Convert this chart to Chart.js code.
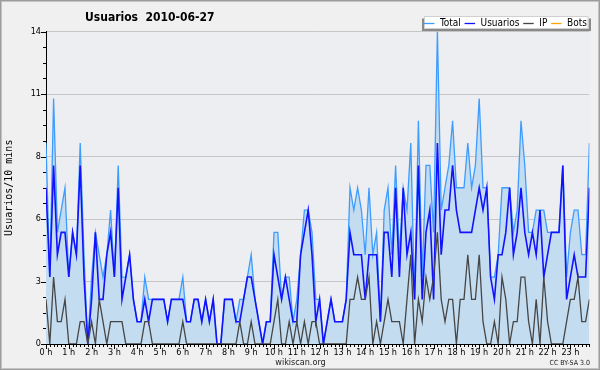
<!DOCTYPE html>
<html><head><meta charset="utf-8">
<script src="https://cdn.jsdelivr.net/npm/chart.js@4.4.0/dist/chart.umd.min.js"></script>
<style>html,body{margin:0;padding:0;background:#f0f0f0;}canvas{display:block;}</style>
</head><body>
<canvas id="c" width="600" height="370"></canvas>
<script>
// ---- data (one value per 10 minutes, 00:00 .. 23:50) ----
const titleText = "Usuarios  2010-06-27";
const yAxisTitle = "Usuarios/10 mins";
const hourLabels = ["0 h","1 h","2 h","3 h","4 h","5 h","6 h","7 h","8 h","9 h","10 h","11 h","12 h","13 h","14 h","15 h","16 h","17 h","18 h","19 h","20 h","21 h","22 h","23 h"];
const yTickLabels = ["0","3","6","8","11","14"];
const seriesNames = ["Total","Usuarios","IP","Bots"];
const total = [9,3,11,5,6,7,3,5,4,9,4,0,3,5,4,3,4,6,3,8,3,3,4,2,1,1,3,2,2,2,2,2,1,2,2,2,3,1,1,2,2,1,2,1,2,0,0,2,2,2,1,2,2,3,4,2,1,0,1,1,5,5,2,3,3,1,2,4,6,6,5,2,2,0,1,2,1,1,1,2,7,6,7,6,4,7,4,5,1,6,7,4,8,4,7,6,9,2,10,3,8,8,5,14,6,7,8,10,7,7,7,9,7,8,11,7,7,3,3,4,7,7,7,5,6,10,8,5,5,6,6,6,5,5,5,5,8,3,5,6,6,4,4,9];
const usuarios = [7,3,8,4,5,5,3,5,4,8,3,0,2,5,2,2,4,5,3,7,2,3,4,2,1,1,2,1,2,2,2,2,1,2,2,2,2,1,1,2,2,1,2,1,2,0,0,2,2,2,1,1,2,3,3,2,1,0,1,1,4,3,2,3,2,1,1,4,5,6,4,1,2,0,1,2,1,1,1,2,5,4,4,4,2,4,4,4,1,5,5,3,7,3,7,4,5,2,8,2,5,6,2,9,4,6,6,8,6,5,5,5,5,6,7,6,7,3,2,4,4,5,7,4,5,7,5,4,5,4,6,3,4,5,5,5,8,2,3,4,3,3,3,7];
const ip = [2,0,3,1,1,2,0,0,0,1,1,0,1,0,2,1,0,1,1,1,1,0,0,0,0,0,1,1,0,0,0,0,0,0,0,0,1,0,0,0,0,0,0,0,0,0,0,0,0,0,0,1,0,0,1,0,0,0,0,0,1,2,0,0,1,0,1,0,1,0,1,1,0,0,0,0,0,0,0,0,2,2,3,2,2,3,0,1,0,1,2,1,1,1,0,2,4,0,2,1,3,2,3,5,2,1,2,2,0,2,2,4,2,2,4,1,0,0,1,0,3,2,0,1,1,3,3,1,0,2,0,3,1,0,0,0,0,1,2,2,3,1,1,2];
const bots = [];

const FONT = "'DejaVu Sans Condensed','DejaVu Sans',sans-serif";
const colors = {Total:'#3d9cff', Usuarios:'#1212ff', IP:'#464646', Bots:'#ffa500'};

const pts = arr => arr.map((v,i)=>({x:i,y:v}));

const decor = {
  id:'decor',
  beforeDraw(chart){
    const ctx = chart.ctx, a = chart.chartArea;
    ctx.save();
    ctx.fillStyle = '#f0f0f0'; ctx.fillRect(0,0,chart.width,chart.height);
    ctx.fillStyle = '#eceef1'; ctx.fillRect(a.left,a.top,a.right-a.left,a.bottom-a.top);
    ctx.restore();
  },
  afterDraw(chart){
    const ctx = chart.ctx, a = chart.chartArea;
    const xs = chart.scales.x, ys = chart.scales.y;
    ctx.save();
    ctx.strokeStyle = '#000'; ctx.lineWidth = 1;
    ctx.beginPath();
    ys.ticks.forEach((t,i)=>{
      const py = Math.round(ys.getPixelForTick(i)) + 0.5;
      const len = (i % 4 === 0) ? 5 : 3;
      ctx.moveTo(a.left - len, py); ctx.lineTo(a.left, py);
    });
    xs.ticks.forEach((t,i)=>{
      const px = Math.round(xs.getPixelForTick(i)) + 0.5;
      const len = (t.value % 6 === 0) ? 5 : 3;
      ctx.moveTo(px, a.bottom); ctx.lineTo(px, a.bottom + len);
    });
    ctx.stroke();
    // title
    ctx.fillStyle = '#000';
    ctx.font = 'bold 12px ' + FONT;
    ctx.textAlign = 'left'; ctx.textBaseline = 'alphabetic';
    ctx.fillText(titleText, 85, 21);
    // legend
    ctx.font = '10px ' + FONT;
    const lineLen = 10.5, gapA = 5.5, gapB = 3.8;
    let w = 0;
    seriesNames.forEach((n,i)=>{ w += lineLen + gapA + ctx.measureText(n).width + (i < seriesNames.length-1 ? gapB : 0); });
    const endX = 587, boxL = 424, boxR = 588.5;
    ctx.fillStyle = '#8a8a8a'; ctx.fillRect(boxL-2, 18.5, boxR-boxL+4.5, 12.5);
    ctx.fillStyle = '#ffffff'; ctx.fillRect(boxL, 16, boxR-boxL, 13);
    ctx.strokeStyle = '#d0d0d0'; ctx.strokeRect(boxL+0.5, 16.5, boxR-boxL-1, 12);
    let x = endX - w;
    ctx.textBaseline = 'middle';
    seriesNames.forEach((n)=>{
      ctx.strokeStyle = colors[n]; ctx.lineWidth = 1.3;
      ctx.beginPath(); ctx.moveTo(x, 23.5); ctx.lineTo(x+lineLen, 23.5); ctx.stroke();
      x += lineLen + gapA;
      ctx.fillStyle = '#000'; ctx.fillText(n, x, 23.5);
      x += ctx.measureText(n).width + gapB;
    });
    // footer
    ctx.textBaseline = 'alphabetic';
    ctx.font = '9px ' + FONT; ctx.textAlign = 'center'; ctx.fillStyle = '#222';
    ctx.fillText('wikiscan.org', 300.5, 365);
    ctx.font = '7px ' + FONT; ctx.textAlign = 'right';
    ctx.fillText('CC BY-SA 3.0', 590, 365);
    // frame
    ctx.lineWidth = 1;
    ctx.strokeStyle = '#9c9c9c'; ctx.strokeRect(0.5,0.5,599,369);
    ctx.strokeStyle = '#c4c4c4'; ctx.strokeRect(1.5,1.5,597,367);
    ctx.restore();
  }
};

new Chart(document.getElementById('c'), {
  type:'line',
  data:{
    datasets:[
      {label:seriesNames[0], data:pts(total), borderColor:colors.Total, backgroundColor:'#c4dcf0', fill:'origin', borderWidth:1.3, pointRadius:0, tension:0, order:3},
      {label:seriesNames[1], data:pts(usuarios), borderColor:colors.Usuarios, fill:false, borderWidth:1.6, pointRadius:0, tension:0, order:2},
      {label:seriesNames[2], data:pts(ip), borderColor:colors.IP, fill:false, borderWidth:1.3, pointRadius:0, tension:0, order:1},
      {label:seriesNames[3], data:pts(bots), borderColor:colors.Bots, fill:false, borderWidth:1.3, pointRadius:0, tension:0, order:0}
    ]
  },
  options:{
    responsive:false, animation:false, devicePixelRatio:1,
    layout:{padding:{top:31.5, right:10.6, left:0, bottom:0}},
    plugins:{legend:{display:false}, title:{display:false}, tooltip:{enabled:false}},
    scales:{
      x:{
        type:'linear', min:0, max:total.length-1,
        grid:{display:false, drawTicks:false},
        border:{display:true, color:'#000', width:1},
        ticks:{stepSize:1, autoSkip:false, maxRotation:0, padding:3, color:'#000',
          font:{family:FONT, size:9},
          callback:(v)=> (v % 6 === 0) ? hourLabels[v/6] : ''},
        afterFit:(s)=>{ s.height = 26; }
      },
      y:{
        type:'linear', min:0, max:14,
        grid:{drawTicks:false, lineWidth:1,
          color:(c)=> (c.index % 4 === 0) ? '#c6c6c6' : 'rgba(0,0,0,0)'},
        border:{display:true, color:'#000', width:1},
        ticks:{stepSize:0.7, autoSkip:false, padding:5, color:'#000',
          font:{family:FONT, size:9},
          callback:(v,i)=> (i % 4 === 0) ? yTickLabels[i/4] : ''},
        title:{display:true, text:yAxisTitle, color:'#000',
          font:{family:"'DejaVu Sans Mono',monospace", size:10}, padding:{top:3.5, bottom:0}},
        afterFit:(s)=>{ s.width = 46; }
      }
    }
  },
  plugins:[decor]
});
</script>
</body></html>
